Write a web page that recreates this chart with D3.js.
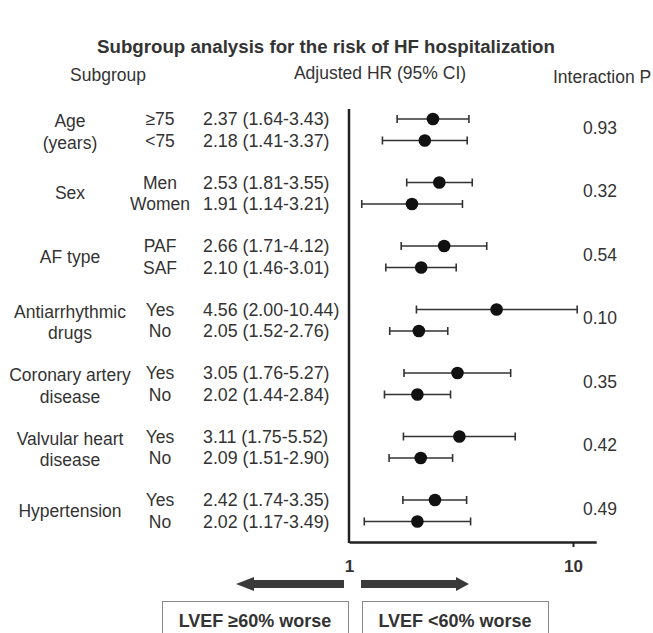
<!DOCTYPE html>
<html>
<head>
<meta charset="utf-8">
<script src="https://cdn.jsdelivr.net/npm/d3@7"></script>
<style>
  body { margin: 0; background: #fff; }
  text { font-family: "Liberation Sans", Arial, sans-serif; fill: #333; }
</style>
</head>
<body>
<script>
// chart values
const groupLabels = [["Age", "(years)"], ["Sex"], ["AF type"], ["Antiarrhythmic", "drugs"],
  ["Coronary artery", "disease"], ["Valvular heart", "disease"], ["Hypertension"]];
const subLabels = [["≥75", "<75"], ["Men", "Women"], ["PAF", "SAF"], ["Yes", "No"],
  ["Yes", "No"], ["Yes", "No"], ["Yes", "No"]];
const hr = [[2.37, 2.18], [2.53, 1.91], [2.66, 2.10], [4.56, 2.05], [3.05, 2.02], [3.11, 2.09], [2.42, 2.02]];
const ciLow = [[1.64, 1.41], [1.81, 1.14], [1.71, 1.46], [2.00, 1.52], [1.76, 1.44], [1.75, 1.51], [1.74, 1.17]];
const ciHigh = [[3.43, 3.37], [3.55, 3.21], [4.12, 3.01], [10.44, 2.76], [5.27, 2.84], [5.52, 2.90], [3.35, 3.49]];
const interactionP = ["0.93", "0.32", "0.54", "0.10", "0.35", "0.42", "0.49"];
const xTicks = [1, 10];

const W = 653, H = 633;
const svg = d3.select("body").append("svg").attr("width", W).attr("height", H);
svg.append("rect").attr("width", W).attr("height", H).attr("fill", "#fff");

const fs = 17.5;
const decade = 224;
const x = d3.scaleLog().domain([1, 12.7]).range([349, 349 + decade * Math.log10(12.7)]);
const yGroup = d3.scalePoint().domain(d3.range(groupLabels.length)).range([119, 500]);
const subStep = 21.5;

const rows = [];
hr.forEach((pair, i) => pair.forEach((v, j) => rows.push({
  g: i, s: j, label: subLabels[i][j], hr: v, lo: ciLow[i][j], hi: ciHigh[i][j],
  y: yGroup(i) + j * subStep
})));

// title + headers
svg.append("text").attr("x", 326).attr("y", 53).attr("text-anchor", "middle")
  .style("font-weight", "bold").style("font-size", "18.7px").text("Subgroup analysis for the risk of HF hospitalization");
svg.append("text").attr("x", 108).attr("y", 81).attr("text-anchor", "middle").style("font-size", fs + "px").text("Subgroup");
svg.append("text").attr("x", 380).attr("y", 79).attr("text-anchor", "middle").style("font-size", fs + "px").text("Adjusted HR (95% CI)");
svg.append("text").attr("x", 553).attr("y", 83).style("font-size", fs + "px").text("Interaction P");

// group labels
const gl = svg.append("g");
groupLabels.forEach((lines, i) => {
  lines.forEach((t, k) => {
    const yy = lines.length === 1 ? yGroup(i) + subStep / 2 : yGroup(i) + k * subStep + 2;
    gl.append("text").attr("x", 70).attr("y", yy).attr("dy", "0.35em")
      .attr("text-anchor", "middle").style("font-size", fs + "px").text(t);
  });
});

// sub labels and HR text
svg.append("g").selectAll("text").data(rows).join("text")
  .attr("x", 160).attr("y", d => d.y).attr("dy", "0.35em").attr("text-anchor", "middle")
  .style("font-size", fs + "px").text(d => d.label);
svg.append("g").selectAll("text").data(rows).join("text")
  .attr("x", 203).attr("y", d => d.y).attr("dy", "0.35em")
  .style("font-size", "17.8px").text(d => `${d.hr.toFixed(2)} (${d.lo.toFixed(2)}-${d.hi.toFixed(2)})`);

// interaction P
svg.append("g").selectAll("text").data(interactionP).join("text")
  .attr("x", 600).attr("y", (d, i) => yGroup(i) + subStep / 2 - 2).attr("dy", "0.35em").attr("text-anchor", "middle")
  .style("font-size", fs + "px").text(d => d);

// axes
const axisY = 542;
svg.append("line").attr("x1", x(1)).attr("x2", x(1)).attr("y1", 109).attr("y2", axisY + 1)
  .attr("stroke", "#222").attr("stroke-width", 2.5);
const ax = svg.append("g").attr("transform", `translate(0,${axisY})`)
  .call(d3.axisBottom(x).tickValues(xTicks).tickFormat(d3.format("d")).tickSize(5).tickSizeOuter(0).tickPadding(13));
ax.select(".domain").attr("stroke", "#222").attr("stroke-width", 2.5);
ax.selectAll(".tick line").attr("stroke", "#222").attr("stroke-width", 2);
ax.selectAll(".tick text").style("font-size", "17px").style("font-weight", "bold").style("font-family", "Liberation Sans, Arial, sans-serif").attr("fill", "#333");
ax.selectAll(".tick").filter(d => d === 1).select("line").remove();

// CI bars
const bars = svg.append("g");
bars.selectAll("line.ci").data(rows).join("line").attr("class", "ci")
  .attr("x1", d => x(d.lo)).attr("x2", d => x(d.hi)).attr("y1", d => d.y).attr("y2", d => d.y)
  .attr("stroke", "#333").attr("stroke-width", 1.6);
bars.selectAll("line.capl").data(rows).join("line").attr("class", "capl")
  .attr("x1", d => x(d.lo)).attr("x2", d => x(d.lo)).attr("y1", d => d.y - 4).attr("y2", d => d.y + 4)
  .attr("stroke", "#333").attr("stroke-width", 1.6);
bars.selectAll("line.caph").data(rows).join("line").attr("class", "caph")
  .attr("x1", d => x(d.hi)).attr("x2", d => x(d.hi)).attr("y1", d => d.y - 4).attr("y2", d => d.y + 4)
  .attr("stroke", "#333").attr("stroke-width", 1.6);
bars.selectAll("circle").data(rows).join("circle")
  .attr("cx", d => x(d.hr)).attr("cy", d => d.y).attr("r", 6.3).attr("fill", "#111");

// direction arrows
const ay = 584, x1 = x(1);
svg.append("path").attr("fill", "#3a3a3a")
  .attr("d", `M${x1 - 5},${ay - 4}H${x1 - 95}V${ay - 7}L${x1 - 113},${ay}L${x1 - 95},${ay + 7}V${ay + 4}H${x1 - 5}Z`);
svg.append("path").attr("fill", "#3a3a3a")
  .attr("d", `M${x1 + 12},${ay - 4}H${x1 + 107}V${ay - 7}L${x1 + 120},${ay}L${x1 + 107},${ay + 7}V${ay + 4}H${x1 + 12}Z`);

// boxes
const boxes = [{ x0: 162, x1: 348, t: "LVEF ≥60% worse" }, { x0: 362, x1: 548, t: "LVEF <60% worse" }];
boxes.forEach(b => {
  svg.append("rect").attr("x", b.x0 + 0.5).attr("y", 601.5).attr("width", b.x1 - b.x0).attr("height", 40)
    .attr("fill", "none").attr("stroke", "#888").attr("stroke-width", 1);
  svg.append("text").attr("x", (b.x0 + b.x1) / 2).attr("y", 627).attr("text-anchor", "middle")
    .style("font-weight", "bold").style("font-size", "18px").text(b.t);
});
</script>
</body>
</html>
